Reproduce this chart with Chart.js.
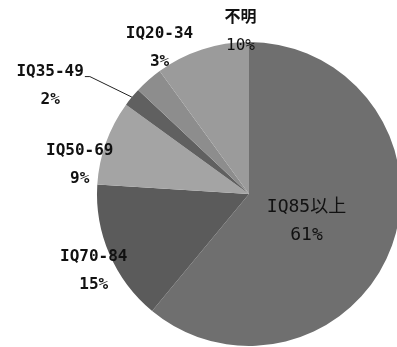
<!DOCTYPE html>
<html>
<head>
<meta charset="utf-8">
<script src="https://cdn.jsdelivr.net/npm/chart.js@4"></script>
<style>
  html, body { margin: 0; padding: 0; background: #fff; overflow: hidden; width: 397px; height: 347px; }
  #wrap { position: absolute; left: 0; top: 0; width: 498px; height: 388px; }
</style>
</head>
<body>
<div id="wrap"><canvas id="pieChart" width="498" height="388"></canvas></div>
<script>
const categories = ['IQ85以上', 'IQ70-84', 'IQ50-69', 'IQ35-49', 'IQ20-34', '不明'];
const percents = [61, 15, 9, 2, 3, 10];
const sliceColors = ['#6f6f6f', '#5b5b5b', '#a4a4a4', '#606060', '#8d8d8d', '#9b9b9b'];

// where each label block sits: fraction of the radius, angle shift from the slice middle (deg)
const labelPlace = [
    { rf: 0.42, da: 6, bold: false, pctBold: false, size: 18 },
    { rf: 1.14, da: -3, bold: true, pctBold: true, size: 16 },
    { rf: 1.13, da: -10, bold: true, pctBold: true, size: 16 },
    { rf: 1.49, da: -11, bold: true, pctBold: true, size: 16, leader: true },
    { rf: 1.13, da: 10, bold: true, pctBold: true, size: 16 },
    { rf: 1.07, da: 15, bold: true, pctBold: false, size: 16 }
];

const labelPlugin = {
    id: 'sliceLabels',
    afterDraw: function (chart) {
        const ctx = chart.ctx;
        const meta = chart.getDatasetMeta(0);
        meta.data.forEach(function (arc, i) {
            const p = arc.getProps(['x', 'y', 'startAngle', 'endAngle', 'outerRadius']);
            const place = labelPlace[i];
            const mid = (p.startAngle + p.endAngle) / 2;
            const a = mid + place.da * Math.PI / 180;
            const x = p.x + Math.cos(a) * p.outerRadius * place.rf;
            const y = p.y + Math.sin(a) * p.outerRadius * place.rf;
            const y1 = y - 14;
            const y2 = y + 14;

            ctx.save();
            ctx.fillStyle = '#111';
            ctx.textAlign = 'center';
            ctx.textBaseline = 'middle';
            ctx.font = (place.bold ? 'bold ' : '') + place.size + 'px "DejaVu Sans Mono", "Noto Sans CJK JP", monospace';
            ctx.fillText(categories[i], x, y1);
            const w = ctx.measureText(categories[i]).width;
            ctx.font = (place.pctBold ? 'bold ' : '') + place.size + 'px "DejaVu Sans Mono", "Noto Sans CJK JP", monospace';
            ctx.fillText(percents[i] + '%', x, y2);

            if (place.leader) {
                const ex = p.x + Math.cos(mid) * p.outerRadius;
                const ey = p.y + Math.sin(mid) * p.outerRadius;
                ctx.strokeStyle = '#222';
                ctx.lineWidth = 1;
                ctx.beginPath();
                ctx.moveTo(x + w / 2 + 1, y1 + 5);
                ctx.lineTo(x + w / 2 + 6, y1 + 5);
                ctx.lineTo(ex, ey);
                ctx.stroke();
            }
            ctx.restore();
        });
    }
};

new Chart(document.getElementById('pieChart').getContext('2d'), {
    type: 'pie',
    data: {
        labels: categories,
        datasets: [{
            data: percents,
            backgroundColor: sliceColors,
            borderWidth: 0
        }]
    },
    options: {
        responsive: false,
        animation: false,
        radius: 152,
        layout: { padding: 0 },
        plugins: {
            legend: { display: false },
            tooltip: { enabled: false }
        }
    },
    plugins: [labelPlugin]
});
</script>
</body>
</html>
